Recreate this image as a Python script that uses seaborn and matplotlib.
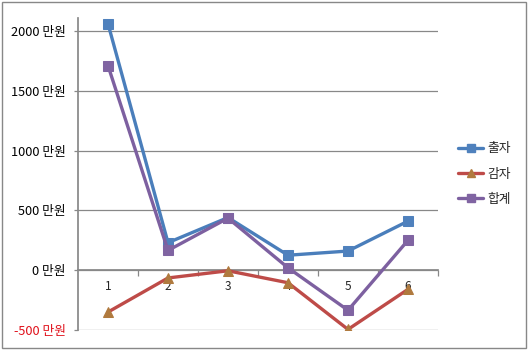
import matplotlib
matplotlib.use("Agg")
import matplotlib.pyplot as plt
from matplotlib.patches import Rectangle
from matplotlib.lines import Line2D
import seaborn as sns
import pandas as pd

categories = ["1", "2", "3", "4", "5", "6"]
chulja = [2060, 230, 440, 125, 160, 410]
gamja = [-350, -65, -5, -105, -495, -160]
hapgye = [1710, 165, 435, 20, -335, 250]
series_names = ["출자", "감자", "합계"]
ytick_vals = [-500, 0, 500, 1000, 1500, 2000]
ytick_labels = ["-500 만원", "0 만원", "500 만원", "1000 만원", "1500 만원", "2000 만원"]

sns.set_theme(style="white")
plt.rcParams['font.family'] = ['Noto Sans CJK KR', 'DejaVu Sans']

fig = plt.figure(figsize=(5.29, 3.51), dpi=100)
ax = fig.add_axes([78/529, 1-330/351, (438-78)/529, (330-18)/351])

df = pd.DataFrame({
    "x": categories * 3,
    "y": chulja + gamja + hapgye,
    "s": [series_names[0]]*6 + [series_names[1]]*6 + [series_names[2]]*6,
})
line_colors = ["#4A7EBB", "#BE4B48", "#7D60A0"]
marker_face = ["#4F81BD", "#B07A3E", "#8064A2"]
markers = ["s", "^", "s"]
for i, name in enumerate(series_names):
    sub = df[df.s == name]
    sns.lineplot(data=sub, x="x", y="y", ax=ax, color=line_colors[i], lw=2.4,
                 marker=markers[i], markersize=7, markerfacecolor=marker_face[i],
                 markeredgecolor=marker_face[i], sort=False, label=name, zorder=3)

ax.set_xlim(-0.5, 5.5)
ax.set_ylim(-500, 2108)
ax.set_yticks(ytick_vals)
ax.set_yticklabels(ytick_labels)
ax.tick_params(axis="y", length=3, color="#888888", width=0.9, pad=6, left=True, labelsize=9.2)
for lbl, v in zip(ax.get_yticklabels(), ytick_vals):
    lbl.set_color("#E0101A" if v < 0 else "black")
ax.yaxis.grid(True, color="#888888", lw=0.9)

ax.set_xticks([0.5, 1.5, 2.5, 3.5, 4.5, 5.5])
ax.set_xticklabels([])
ax.set_xticks(range(6), minor=True)
ax.set_xticklabels(categories, minor=True)
ax.tick_params(axis="x", which="major", length=4, color="#888888", width=0.9, direction="out", bottom=True)
ax.tick_params(axis="x", which="minor", length=0, pad=7, labelsize=8.5)
ax.spines["bottom"].set_position(("data", 0))
ax.spines["bottom"].set_color("#888888")
ax.spines["left"].set_color("#888888")
for s in ["top", "right"]:
    ax.spines[s].set_visible(False)
ax.set_xlabel("")
ax.set_ylabel("")

handles = [Line2D([], [], color=line_colors[i], lw=2.4, marker=markers[i], markersize=6,
                  markerfacecolor=marker_face[i], markeredgecolor=marker_face[i])
           for i in range(3)]
ax.legend(handles, series_names, loc="center left", bbox_to_anchor=(1.03, 0.5),
          frameon=False, fontsize=9.2, handlelength=2.0, handletextpad=0.3,
          labelspacing=0.95, borderpad=0.2)

fig.patches.append(Rectangle((2/529, 3/351), 524/529, 346/351, transform=fig.transFigure,
                             fill=False, edgecolor="#888888", lw=1.0))
fig.savefig("out.png", dpi=100)
